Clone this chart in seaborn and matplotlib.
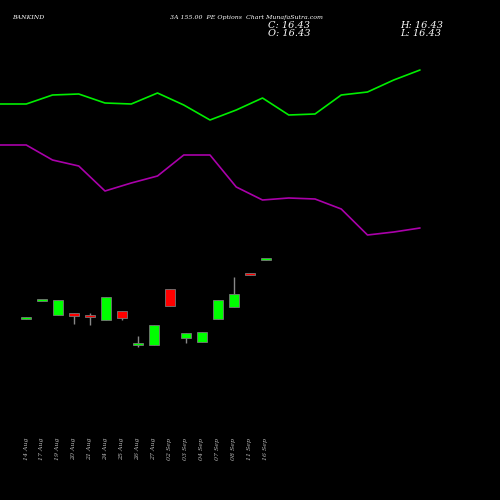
import matplotlib
matplotlib.use("Agg")
import matplotlib.pyplot as plt
import seaborn as sns
import numpy as np

dates = ["14 Aug","17 Aug","19 Aug","20 Aug","21 Aug","24 Aug","25 Aug","26 Aug","27 Aug",
         "02 Sep","03 Sep","04 Sep","07 Sep","08 Sep","11 Sep","16 Sep"]
opens  = [18.1, 19.9, 18.5, 18.7, 18.5, 18.0, 18.9, 15.5, 15.5, 21.1, 16.2, 15.8, 18.1, 19.3, 22.7, 24.0]
closes = [18.3, 19.9, 20.0, 18.4, 18.3, 20.3, 18.2, 15.7, 17.5, 19.4, 16.7, 16.8, 20.0, 20.6, 22.5, 24.1]
highs  = [18.3, 19.9, 20.0, 18.7, 18.7, 20.3, 18.9, 16.4, 17.5, 21.1, 16.7, 16.8, 20.0, 22.3, 22.7, 24.1]
lows   = [18.1, 19.9, 18.5, 17.6, 17.5, 18.0, 18.0, 15.3, 15.5, 19.4, 15.7, 15.8, 18.1, 19.3, 22.5, 24.0]
green_line   = [39.6, 39.6, 40.5, 40.6, 39.7, 39.6, 40.7, 39.5, 38.0, 39.0, 40.2, 38.5, 38.6, 40.5, 40.8, 42.0, 43.0]
magenta_line = [35.5, 35.5, 34.0, 33.4, 30.9, 31.7, 32.4, 34.5, 34.5, 31.3, 30.0, 30.2, 30.1, 29.1, 26.5, 26.8, 27.2]

sns.set_style("dark")
fig = plt.figure(figsize=(5, 5), dpi=100, facecolor="black")
ax = fig.add_axes([0, 0, 1, 1])
ax.set_facecolor("black")
ax2 = ax.twiny()

idx = np.arange(len(dates))
for i in idx:
    up = closes[i] >= opens[i]
    col = "#00ff00" if up else "#ff0000"
    ax.vlines(i, lows[i], highs[i], color="#888888", lw=1, zorder=1)
    b = min(opens[i], closes[i]); h = max(abs(closes[i] - opens[i]), 0.2)
    ax.bar(i, h, bottom=b, width=0.6, color=col, edgecolor="#777777", lw=0.6, zorder=2)

sns.lineplot(x=np.arange(len(green_line)), y=green_line, ax=ax2, color="#00ee00", lw=1.2)
sns.lineplot(x=np.arange(len(magenta_line)), y=magenta_line, ax=ax2, color="#aa00aa", lw=1.2)

ax.set_xlim(-26/16, 474/16)
ax2.set_xlim(0, 500/26.25)
ax.set_ylim(0, 50)
for a in (ax, ax2):
    a.set_yticks([]); a.grid(False)
    for s in a.spines.values():
        s.set_visible(False)
ax2.set_xticks([])
ax.set_xticks(idx)
ax.set_xticklabels(dates, rotation=90, fontsize=4.5, color="#bbbbbb", family="DejaVu Serif", style="italic")
ax.tick_params(axis="x", direction="in", pad=-45, length=0)

fig.text(0.024, 0.965, "BANKIND", fontsize=4.5, color="white", family="DejaVu Serif", style="italic", va="center")
fig.text(0.34, 0.965, "3A 155.00  PE Options  Chart MunafaSutra.com", fontsize=4.5, color="white", family="DejaVu Serif", style="italic", va="center")
fig.text(0.535, 0.95, "C: 16.43", fontsize=7, color="white", family="DejaVu Serif", style="italic", va="center")
fig.text(0.535, 0.933, "O: 16.43", fontsize=7, color="white", family="DejaVu Serif", style="italic", va="center")
fig.text(0.8, 0.95, "H: 16.43", fontsize=7, color="white", family="DejaVu Serif", style="italic", va="center")
fig.text(0.8, 0.933, "L: 16.43", fontsize=7, color="white", family="DejaVu Serif", style="italic", va="center")

fig.savefig("out.png", dpi=100, facecolor="black")
